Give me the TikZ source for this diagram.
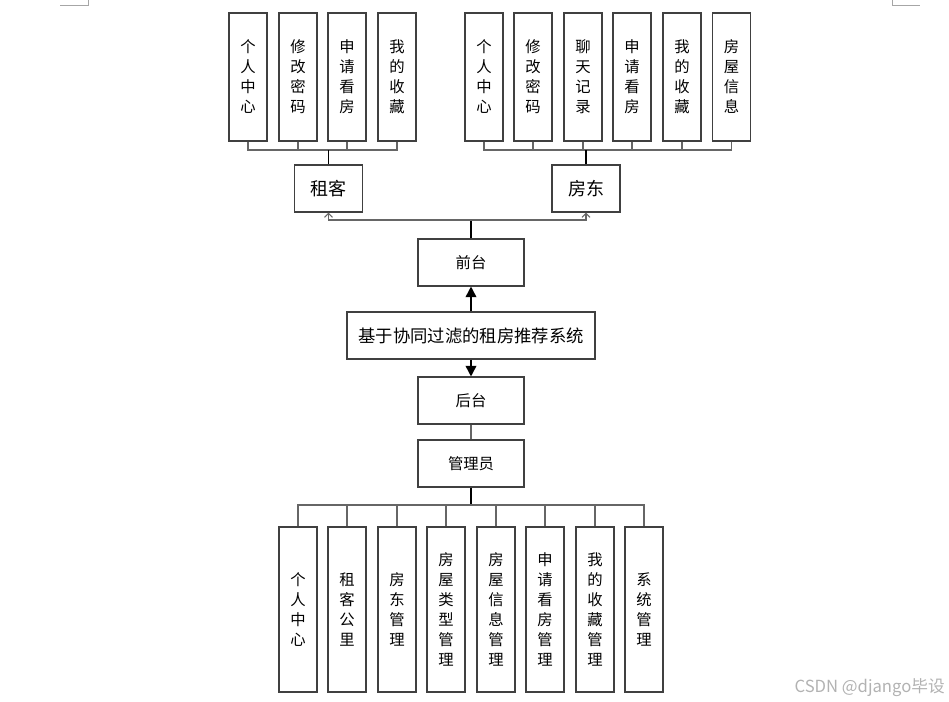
\documentclass[tikz,border=0pt]{standalone}
\usepackage{fontspec}
\newfontfamily\cjk{Noto Sans CJK SC}
\usetikzlibrary{arrows.meta}
\tikzset{
  box/.style={draw=black!75, line width=0.8pt, fill=white, inner sep=0pt, align=center},
  vbox/.style={box, minimum width=38*0.75pt, font=\cjk\fontsize{11.5}{15}\selectfont},
  topbox/.style={vbox, minimum height=128*0.75pt},
  botbox/.style={vbox, minimum height=165*0.75pt},
  rolebox/.style={box, minimum width=68*0.75pt, minimum height=47*0.75pt, font=\cjk\fontsize{13.5}{16}\selectfont},
  midbox/.style={box, minimum width=106*0.75pt, minimum height=47*0.75pt, font=\cjk\fontsize{11.5}{14}\selectfont},
  sysbox/.style={box, minimum width=248*0.75pt, minimum height=47*0.75pt, font=\cjk\fontsize{13}{16}\selectfont},
  stub/.style={draw=black!60, line width=0.8pt},
  trunk/.style={draw=black, line width=1.2pt},
  openarrow/.style={-{Straight Barb[length=3pt,width=6pt]}},
  fillarrow/.style={-{Triangle[length=8pt,width=8pt]}},
  cornermark/.style={draw=black!35, line width=0.6pt}
}
\begin{document}
\begin{tikzpicture}[x=0.75pt,y=-0.75pt]
\useasboundingbox (0,0) rectangle (949,702);
% page corner marks
\draw[cornermark] (60,5) -- (88,5) -- (88,0);
\draw[cornermark] (892,0) -- (892,5) -- (920,5);

% top-left group (tenant)
\node[topbox] (t1) at (248,77) {个\\人\\中\\心};
\node[topbox] (t2) at (298,77) {修\\改\\密\\码};
\node[topbox] (t3) at (347,77) {申\\请\\看\\房};
\node[topbox] (t4) at (397,77) {我\\的\\收\\藏};
\node[rolebox] (zuke) at (328.5,188.5) {租客};

% top-right group (landlord)
\node[topbox] (l1) at (484,77) {个\\人\\中\\心};
\node[topbox] (l2) at (533,77) {修\\改\\密\\码};
\node[topbox] (l3) at (583,77) {聊\\天\\记\\录};
\node[topbox] (l4) at (632,77) {申\\请\\看\\房};
\node[topbox] (l5) at (682,77) {我\\的\\收\\藏};
\node[topbox] (l6) at (731.5,77) {房\\屋\\信\\息};
\node[rolebox] (fangdong) at (586,188.5) {房东};

% middle column
\node[midbox] (qiantai) at (471,262.5) {前台};
\node[sysbox] (sys) at (471,335.5) {基于协同过滤的租房推荐系统};
\node[midbox] (houtai) at (471,400.5) {后台};
\node[midbox] (admin) at (471,463.5) {管理员};

% bottom group (admin)
\node[botbox] (b1) at (298,609.5) {个\\人\\中\\心};
\node[botbox] (b2) at (347,609.5) {租\\客\\公\\里};
\node[botbox] (b3) at (397,609.5) {房\\东\\管\\理};
\node[botbox] (b4) at (446,609.5) {房\\屋\\类\\型\\管\\理};
\node[botbox] (b5) at (496,609.5) {房\\屋\\信\\息\\管\\理};
\node[botbox] (b6) at (545,609.5) {申\\请\\看\\房\\管\\理};
\node[botbox] (b7) at (595,609.5) {我\\的\\收\\藏\\管\\理};
\node[botbox] (b8) at (644,609.5) {系\\统\\管\\理};

% junction coordinates
\coordinate (jl) at (328.5,150);
\coordinate (jr) at (586,150);
\coordinate (jt) at (471,220);
\coordinate (jb) at (471,505);

% tenant tree
\foreach \n in {t1,t2,t3,t4} \draw[stub] (\n.south) |- (jl);
\draw[draw=black, line width=1pt] (zuke.north) -- (jl);
% landlord tree
\foreach \n in {l1,l2,l3,l4,l5,l6} \draw[stub] (\n.south) |- (jr);
\draw[trunk] (fangdong.north) -- (jr);

% front-end to roles
\draw[trunk] (qiantai.north) -- (jt);
\draw[stub, openarrow] (jt) -| (zuke.south);
\draw[stub, openarrow] (jt) -| (fangdong.south);

% system arrows
\draw[trunk, fillarrow] (sys.north) -- (qiantai.south);
\draw[trunk, fillarrow] (sys.south) -- (houtai.north);
\draw[stub] (houtai.south) -- (admin.north);

% admin tree
\draw[trunk] (admin.south) -- (jb);
\foreach \n in {b1,b2,b3,b4,b5,b6,b7,b8} \draw[stub] (jb) -| (\n.north);

% watermark
\node[font=\cjk\fontsize{12.5}{14}\selectfont, text=black!30, anchor=east, inner sep=0pt] (wm) at (945,688) {CSDN @django毕设};
\end{tikzpicture}
\end{document}
